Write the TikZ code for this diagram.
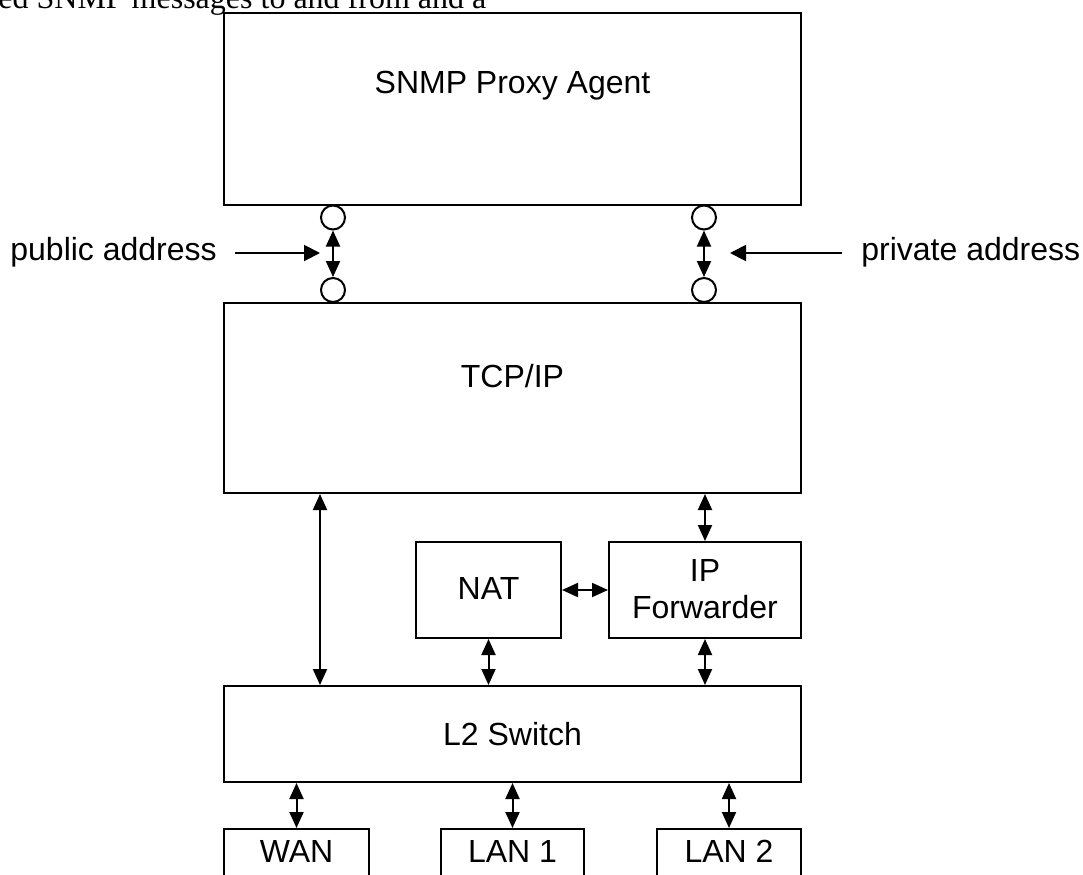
\documentclass[tikz,border=0pt]{standalone}
\usepackage{fontspec}
\setmainfont{Liberation Sans}
\newfontfamily\timesf{Liberation Serif}
\usetikzlibrary{arrows.meta}
\tikzset{
  box/.style={draw, line width=1pt, inner sep=0pt, fill=white},
  lbl/.style={inner sep=0pt, anchor=base, font=\fontsize{16pt}{19pt}\selectfont},
  port/.style={draw, circle, line width=1pt, minimum size=12pt, inner sep=0pt, fill=white},
  dbl/.style={line width=1pt, {Triangle[length=8pt,width=7pt]}-{Triangle[length=8pt,width=7pt]}},
  sgl/.style={line width=1pt, -{Triangle[length=8pt,width=8pt]}}
}
\begin{document}
\begin{tikzpicture}[x=0.5pt,y=-0.5pt]
\useasboundingbox (0,0) rectangle (1083,874);
\clip (0,0) rectangle (1083,874);
\fill[white] (0,0) rectangle (1083,874);
% cut top text
\node[inner sep=0pt, anchor=base west, font=\timesf\fontsize{16pt}{19pt}\selectfont] (toptext) at (-2,8) {ed SNMP messages to and from and a};
% boxes
\node[box, minimum width=288.5pt, minimum height=96pt] (snmp) at (512.5,109) {};
\node[box, minimum width=288.5pt, minimum height=95pt] (tcp) at (512.5,398) {};
\node[box, minimum width=72.5pt, minimum height=48pt] (nat) at (488.5,590) {};
\node[box, minimum width=96pt, minimum height=48pt] (ipf) at (705,590) {};
\node[box, minimum width=288.5pt, minimum height=48pt] (l2) at (512.5,734) {};
\node[box, minimum width=72.5pt, minimum height=40pt] (wan) at (296.5,869) {};
\node[box, minimum width=71.5pt, minimum height=40pt] (lan1) at (512.5,869) {};
\node[box, minimum width=72pt, minimum height=40pt] (lan2) at (729,869) {};
% labels
\node[lbl] (snmpt) at (512.5,93.5) {SNMP Proxy Agent};
\node[lbl] (tcpt) at (512.5,387.5) {TCP/IP};
\node[lbl] (natt) at (488.5,599.5) {NAT};
\node[lbl] (ipft1) at (705,581.5) {IP};
\node[lbl] (ipft2) at (705,618.5) {Forwarder};
\node[lbl] (l2t) at (512.5,745.5) {L2 Switch};
\node[lbl] (want) at (296.5,862) {WAN};
\node[lbl] (lan1t) at (512.5,862) {LAN 1};
\node[lbl] (lan2t) at (729,862) {LAN 2};
\node[lbl, anchor=base west] (pub) at (10,260) {public address};
\node[lbl, anchor=base west] (priv) at (861,260) {private address};
% ports
\node[port] (c1) at (333,217.5) {};
\node[port] (c2) at (333,290) {};
\node[port] (c3) at (704,217.5) {};
\node[port] (c4) at (704,290) {};
\draw[dbl] (c1.south) -- (c2.north);
\draw[dbl] (c3.south) -- (c4.north);
\coordinate (pubs) at (235,253);
\coordinate (pube) at (320,253);
\coordinate (privs) at (842,253);
\coordinate (prive) at (730,253);
\draw[sgl] (pubs) -- (pube);
\draw[sgl] (privs) -- (prive);
% connectors
\draw[dbl] ([xshift=48.5pt]tcp.south west) -- ([xshift=48.5pt]l2.north west);
\draw[dbl] (tcp.south -| ipf.north) -- (ipf.north);
\draw[dbl] (nat.east) -- (ipf.west);
\draw[dbl] (nat.south) -- (l2.north -| nat.south);
\draw[dbl] (ipf.south) -- (l2.north -| ipf.south);
\draw[dbl] (l2.south -| wan.north) -- (wan.north);
\draw[dbl] (l2.south -| lan1.north) -- (lan1.north);
\draw[dbl] (l2.south -| lan2.north) -- (lan2.north);
\end{tikzpicture}
\end{document}
